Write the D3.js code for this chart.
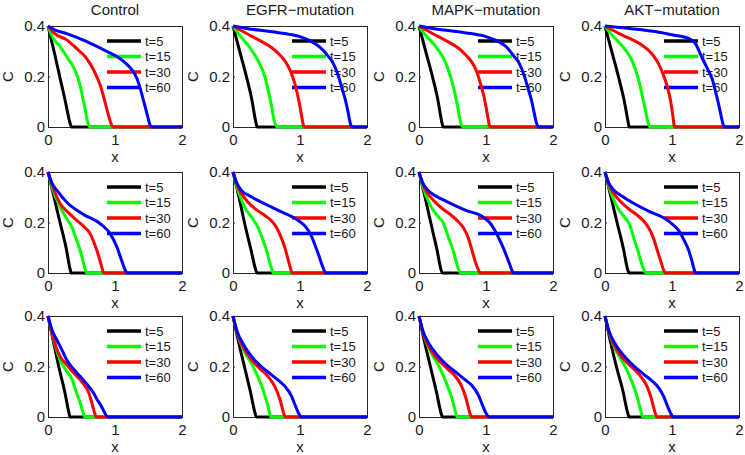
<!DOCTYPE html>
<html>
<head>
<meta charset="utf-8">
<script src="https://cdn.jsdelivr.net/npm/d3@7"></script>
<style>
  html, body { margin: 0; padding: 0; background: #fff; }
  svg { display: block; }
</style>
</head>
<body>
<svg id="chart" width="745" height="455"></svg>
<script>
// ---------- data ----------
const panelTitles = ["Control", "EGFR\u2212mutation", "MAPK\u2212mutation", "AKT\u2212mutation"];
const seriesLabels = ["t=5", "t=15", "t=30", "t=60"];
const xTicks = [0, 1, 2];
const yTicks = [0, 0.2, 0.4];
const xLabel = "x";
const yLabel = "C";

// each panel: [t=5 points, t=15 points, t=30 points, t=60 points], points = [x, C]
const control_row1 = [
  [[0,0.4],[0.09,0.3],[0.175,0.2],[0.26,0.1],[0.33,0.015],[0.35,0],[2,0]],
  [[0,0.4],[0.06,0.36],[0.175,0.32],[0.3,0.27],[0.375,0.24],[0.44,0.2],[0.5,0.14],[0.55,0.075],[0.6,0.012],[0.63,0],[2,0]],
  [[0,0.4],[0.1,0.37],[0.28,0.345],[0.43,0.31],[0.53,0.286],[0.63,0.25],[0.7,0.215],[0.78,0.165],[0.85,0.1],[0.91,0.04],[0.95,0.007],[0.97,0],[2,0]],
  [[0,0.4],[0.1,0.385],[0.28,0.37],[0.58,0.338],[0.88,0.299],[1.05,0.275],[1.17,0.25],[1.27,0.22],[1.33,0.19],[1.38,0.15],[1.43,0.1],[1.48,0.05],[1.52,0.01],[1.55,0],[2,0]]
];
const egfr_row1 = [
  [[0,0.4],[0.1,0.3],[0.2,0.2],[0.28,0.11],[0.34,0.02],[0.36,0],[2,0]],
  [[0,0.4],[0.08,0.37],[0.275,0.306],[0.38,0.26],[0.475,0.2],[0.53,0.14],[0.57,0.09],[0.62,0.02],[0.66,0],[2,0]],
  [[0,0.4],[0.1,0.385],[0.275,0.36],[0.45,0.335],[0.575,0.315],[0.7,0.285],[0.78,0.26],[0.86,0.22],[0.925,0.17],[0.97,0.12],[1.0,0.08],[1.03,0.035],[1.05,0.007],[1.07,0],[2,0]],
  [[0,0.4],[0.275,0.387],[0.5,0.38],[0.775,0.37],[1.0,0.358],[1.175,0.338],[1.3,0.315],[1.425,0.279],[1.5,0.25],[1.575,0.2],[1.63,0.15],[1.675,0.109],[1.72,0.055],[1.75,0.015],[1.78,0],[2,0]]
];
const mapk_row1 = [
  [[0,0.4],[0.1,0.3],[0.2,0.2],[0.28,0.11],[0.34,0.02],[0.36,0],[2,0]],
  [[0,0.4],[0.08,0.37],[0.275,0.31],[0.38,0.265],[0.47,0.2],[0.53,0.14],[0.57,0.09],[0.62,0.02],[0.66,0],[2,0]],
  [[0,0.4],[0.1,0.385],[0.275,0.36],[0.45,0.335],[0.575,0.315],[0.7,0.285],[0.78,0.26],[0.86,0.22],[0.92,0.17],[0.97,0.12],[1.0,0.08],[1.03,0.035],[1.05,0.007],[1.06,0],[2,0]],
  [[0,0.4],[0.275,0.387],[0.5,0.38],[0.775,0.37],[1.0,0.358],[1.175,0.34],[1.3,0.318],[1.41,0.283],[1.5,0.25],[1.575,0.2],[1.63,0.15],[1.68,0.105],[1.72,0.055],[1.755,0.015],[1.78,0],[2,0]]
];
const akt_row1 = [
  [[0,0.4],[0.1,0.3],[0.2,0.2],[0.29,0.1],[0.345,0.02],[0.36,0],[2,0]],
  [[0,0.4],[0.08,0.372],[0.275,0.315],[0.4,0.265],[0.5,0.188],[0.56,0.12],[0.6,0.07],[0.64,0.02],[0.675,0],[2,0]],
  [[0,0.4],[0.1,0.385],[0.275,0.362],[0.45,0.34],[0.55,0.325],[0.7,0.29],[0.8,0.25],[0.88,0.2],[0.94,0.15],[0.975,0.109],[1.01,0.05],[1.03,0.01],[1.04,0],[2,0]],
  [[0,0.4],[0.3,0.392],[0.55,0.385],[0.75,0.378],[1.0,0.365],[1.25,0.351],[1.35,0.33],[1.45,0.273],[1.53,0.23],[1.6,0.19],[1.65,0.14],[1.7,0.085],[1.74,0.035],[1.765,0.008],[1.78,0],[2,0]]
];

const control_row2 = [
  [[0,0.4],[0.09,0.3],[0.184,0.195],[0.27,0.1],[0.33,0.015],[0.345,0],[2,0]],
  [[0,0.4],[0.06,0.34],[0.184,0.26],[0.28,0.215],[0.36,0.18],[0.42,0.135],[0.48,0.089],[0.53,0.04],[0.56,0.01],[0.58,0],[2,0]],
  [[0,0.4],[0.06,0.35],[0.184,0.274],[0.3,0.24],[0.43,0.208],[0.53,0.185],[0.63,0.155],[0.68,0.125],[0.73,0.089],[0.78,0.045],[0.81,0.016],[0.83,0],[2,0]],
  [[0,0.4],[0.06,0.355],[0.134,0.327],[0.28,0.28],[0.53,0.232],[0.78,0.195],[0.93,0.155],[1.03,0.102],[1.1,0.049],[1.16,0.008],[1.18,0],[2,0]]
];
const egfr_row2 = [
  [[0,0.4],[0.09,0.3],[0.175,0.195],[0.27,0.09],[0.34,0.012],[0.36,0],[2,0]],
  [[0,0.4],[0.06,0.34],[0.175,0.26],[0.28,0.22],[0.375,0.18],[0.44,0.135],[0.5,0.089],[0.55,0.04],[0.585,0.01],[0.6,0],[2,0]],
  [[0,0.4],[0.06,0.35],[0.225,0.28],[0.35,0.25],[0.475,0.228],[0.58,0.205],[0.65,0.18],[0.72,0.14],[0.775,0.1],[0.83,0.045],[0.865,0.012],[0.88,0],[2,0]],
  [[0,0.4],[0.05,0.36],[0.125,0.327],[0.25,0.305],[0.375,0.287],[0.675,0.248],[0.975,0.208],[1.06,0.19],[1.125,0.168],[1.18,0.14],[1.225,0.11],[1.28,0.07],[1.325,0.035],[1.37,0.005],[1.39,0],[2,0]]
];
const mapk_row2 = [
  [[0,0.4],[0.09,0.3],[0.175,0.2],[0.27,0.09],[0.33,0.012],[0.35,0],[2,0]],
  [[0,0.4],[0.06,0.34],[0.175,0.265],[0.28,0.225],[0.36,0.2],[0.44,0.14],[0.51,0.089],[0.56,0.04],[0.6,0.008],[0.62,0],[2,0]],
  [[0,0.4],[0.06,0.35],[0.225,0.285],[0.35,0.255],[0.475,0.23],[0.58,0.205],[0.66,0.18],[0.72,0.15],[0.78,0.1],[0.84,0.045],[0.89,0.01],[0.91,0],[2,0]],
  [[0,0.4],[0.05,0.36],[0.125,0.33],[0.25,0.305],[0.4,0.285],[0.7,0.248],[0.96,0.221],[1.07,0.195],[1.16,0.155],[1.24,0.11],[1.31,0.065],[1.36,0.03],[1.39,0.008],[1.41,0],[2,0]]
];
const akt_row2 = [
  [[0,0.4],[0.09,0.3],[0.18,0.2],[0.28,0.09],[0.34,0.012],[0.36,0],[2,0]],
  [[0,0.4],[0.06,0.34],[0.175,0.265],[0.28,0.225],[0.37,0.19],[0.44,0.13],[0.5,0.08],[0.55,0.035],[0.59,0.007],[0.61,0],[2,0]],
  [[0,0.4],[0.06,0.35],[0.225,0.285],[0.35,0.255],[0.475,0.23],[0.58,0.205],[0.66,0.175],[0.72,0.14],[0.78,0.09],[0.84,0.04],[0.88,0.008],[0.9,0],[2,0]],
  [[0,0.4],[0.05,0.36],[0.125,0.33],[0.25,0.305],[0.4,0.28],[0.65,0.245],[0.9,0.215],[1.0,0.195],[1.1,0.168],[1.18,0.13],[1.25,0.089],[1.3,0.045],[1.33,0.015],[1.35,0],[2,0]]
];

const control_row3 = [
  [[0,0.4],[0.08,0.3],[0.16,0.2],[0.25,0.1],[0.31,0.02],[0.33,0],[2,0]],
  [[0,0.4],[0.06,0.33],[0.18,0.226],[0.27,0.185],[0.36,0.148],[0.42,0.1],[0.48,0.056],[0.52,0.02],[0.55,0],[2,0]],
  [[0,0.4],[0.06,0.33],[0.18,0.24],[0.28,0.207],[0.38,0.175],[0.48,0.148],[0.56,0.12],[0.61,0.095],[0.65,0.06],[0.68,0.03],[0.71,0.005],[0.72,0],[2,0]],
  [[0,0.4],[0.06,0.345],[0.134,0.304],[0.2,0.27],[0.28,0.226],[0.38,0.19],[0.48,0.161],[0.58,0.13],[0.68,0.095],[0.73,0.07],[0.78,0.05],[0.83,0.025],[0.86,0.01],[0.9,0],[2,0]]
];
const egfr_row3 = [
  [[0,0.4],[0.08,0.3],[0.17,0.2],[0.26,0.1],[0.33,0.015],[0.35,0],[2,0]],
  [[0,0.4],[0.06,0.335],[0.15,0.27],[0.225,0.235],[0.3,0.2],[0.37,0.16],[0.425,0.125],[0.48,0.08],[0.525,0.04],[0.55,0.01],[0.565,0],[2,0]],
  [[0,0.4],[0.06,0.335],[0.2,0.255],[0.35,0.205],[0.45,0.18],[0.525,0.16],[0.625,0.12],[0.7,0.07],[0.76,0.012],[0.78,0],[2,0]],
  [[0,0.4],[0.06,0.34],[0.15,0.29],[0.275,0.24],[0.4,0.205],[0.575,0.167],[0.7,0.14],[0.775,0.122],[0.875,0.082],[0.93,0.045],[0.975,0.017],[1.02,0],[2,0]]
];
const mapk_row3 = [
  [[0,0.4],[0.08,0.3],[0.17,0.2],[0.26,0.1],[0.33,0.015],[0.35,0],[2,0]],
  [[0,0.4],[0.06,0.335],[0.15,0.27],[0.225,0.235],[0.3,0.2],[0.37,0.16],[0.43,0.12],[0.49,0.075],[0.53,0.035],[0.555,0.008],[0.57,0],[2,0]],
  [[0,0.4],[0.06,0.335],[0.2,0.255],[0.35,0.21],[0.45,0.185],[0.53,0.165],[0.63,0.125],[0.7,0.075],[0.76,0.015],[0.785,0],[2,0]],
  [[0,0.4],[0.06,0.34],[0.15,0.29],[0.275,0.245],[0.4,0.21],[0.575,0.172],[0.7,0.145],[0.79,0.125],[0.89,0.085],[0.95,0.045],[1.0,0.015],[1.05,0],[2,0]]
];
const akt_row3 = [
  [[0,0.4],[0.08,0.3],[0.17,0.2],[0.27,0.1],[0.34,0.015],[0.36,0],[2,0]],
  [[0,0.4],[0.06,0.335],[0.15,0.27],[0.225,0.235],[0.3,0.2],[0.37,0.16],[0.43,0.12],[0.485,0.075],[0.525,0.035],[0.55,0.008],[0.56,0],[2,0]],
  [[0,0.4],[0.06,0.335],[0.2,0.255],[0.35,0.21],[0.45,0.185],[0.53,0.162],[0.62,0.125],[0.69,0.075],[0.75,0.015],[0.775,0],[2,0]],
  [[0,0.4],[0.06,0.34],[0.15,0.29],[0.275,0.245],[0.4,0.21],[0.575,0.17],[0.7,0.143],[0.78,0.123],[0.87,0.085],[0.93,0.045],[0.98,0.015],[1.025,0],[2,0]]
];

const panelRows = [
  [control_row1, egfr_row1, mapk_row1, akt_row1],
  [control_row2, egfr_row2, mapk_row2, akt_row2],
  [control_row3, egfr_row3, mapk_row3, akt_row3]
];

// ---------- layout / style ----------
const colors = ["#000000", "#00ff00", "#ff0000", "#0000ff"];
const colLeft = [48, 233, 419, 605];
const rowTop = [26, 172, 316];
const pw = 134, ph = 101;
const font = "'Liberation Sans', Arial, sans-serif";

const svg = d3.select("#chart");
const x = d3.scaleLinear().domain([0, 2]).range([0, pw]);
const y = d3.scaleLinear().domain([0, 0.4]).range([ph, 0]);
const line = d3.line().x(d => x(d[0])).y(d => y(d[1])).curve(d3.curveMonotoneX);

panelRows.forEach((row, ri) => {
  row.forEach((series, ci) => {
    const g = svg.append("g").attr("transform", `translate(${colLeft[ci]},${rowTop[ri]})`);

    // axes
    const xa = g.append("g").attr("transform", `translate(0,${ph})`)
      .call(d3.axisBottom(x).tickValues(xTicks).tickFormat(d3.format("d")).tickSizeInner(-2).tickSizeOuter(0).tickPadding(7));
    const ya = g.append("g")
      .call(d3.axisLeft(y).tickValues(yTicks).tickFormat(d => d === 0 ? "0" : d3.format(".1f")(d)).tickSizeInner(-2).tickSizeOuter(0).tickPadding(3));
    [xa, ya].forEach(a => {
      a.select(".domain").remove();
      a.selectAll("line").attr("stroke", "#262626");
      a.selectAll("text").attr("fill", "#1a1a1a").style("font-family", font).style("font-size", "15px");
    });

    // box
    g.append("rect").attr("x", 0).attr("y", 0).attr("width", pw).attr("height", ph)
      .attr("fill", "none").attr("stroke", "#262626").attr("stroke-width", 1)
      .attr("shape-rendering", "crispEdges");

    // legend
    const lg = g.append("g");
    const legY = [15, 30.5, 46, 61.5];
    seriesLabels.forEach((lab, i) => {
      lg.append("line").attr("x1", 59).attr("x2", 93).attr("y1", legY[i]).attr("y2", legY[i])
        .attr("stroke", colors[i]).attr("stroke-width", 3.5);
      lg.append("text").attr("x", 97).attr("y", legY[i]).attr("dy", "0.35em")
        .style("font-family", font).style("font-size", "13px").attr("fill", "#1a1a1a").text(lab);
    });

    // curves
    series.forEach((pts, i) => {
      g.append("path").datum(pts).attr("d", line)
        .attr("fill", "none").attr("stroke", colors[i]).attr("stroke-width", 3)
        .attr("stroke-linejoin", "round");
    });

    // labels
    g.append("text").attr("x", pw / 2).attr("y", ph + 35).attr("text-anchor", "middle")
      .style("font-family", font).style("font-size", "15px").attr("fill", "#1a1a1a").text(xLabel);
    g.append("text").attr("transform", `translate(-35,${ph / 2}) rotate(-90)`).attr("text-anchor", "middle")
      .style("font-family", font).style("font-size", "15px").attr("fill", "#1a1a1a").text(yLabel);
    if (ri === 0) {
      g.append("text").attr("x", pw / 2).attr("y", -11).attr("text-anchor", "middle")
        .style("font-family", font).style("font-size", "15px").attr("fill", "#1a1a1a").text(panelTitles[ci]);
    }
  });
});
</script>
</body>
</html>
